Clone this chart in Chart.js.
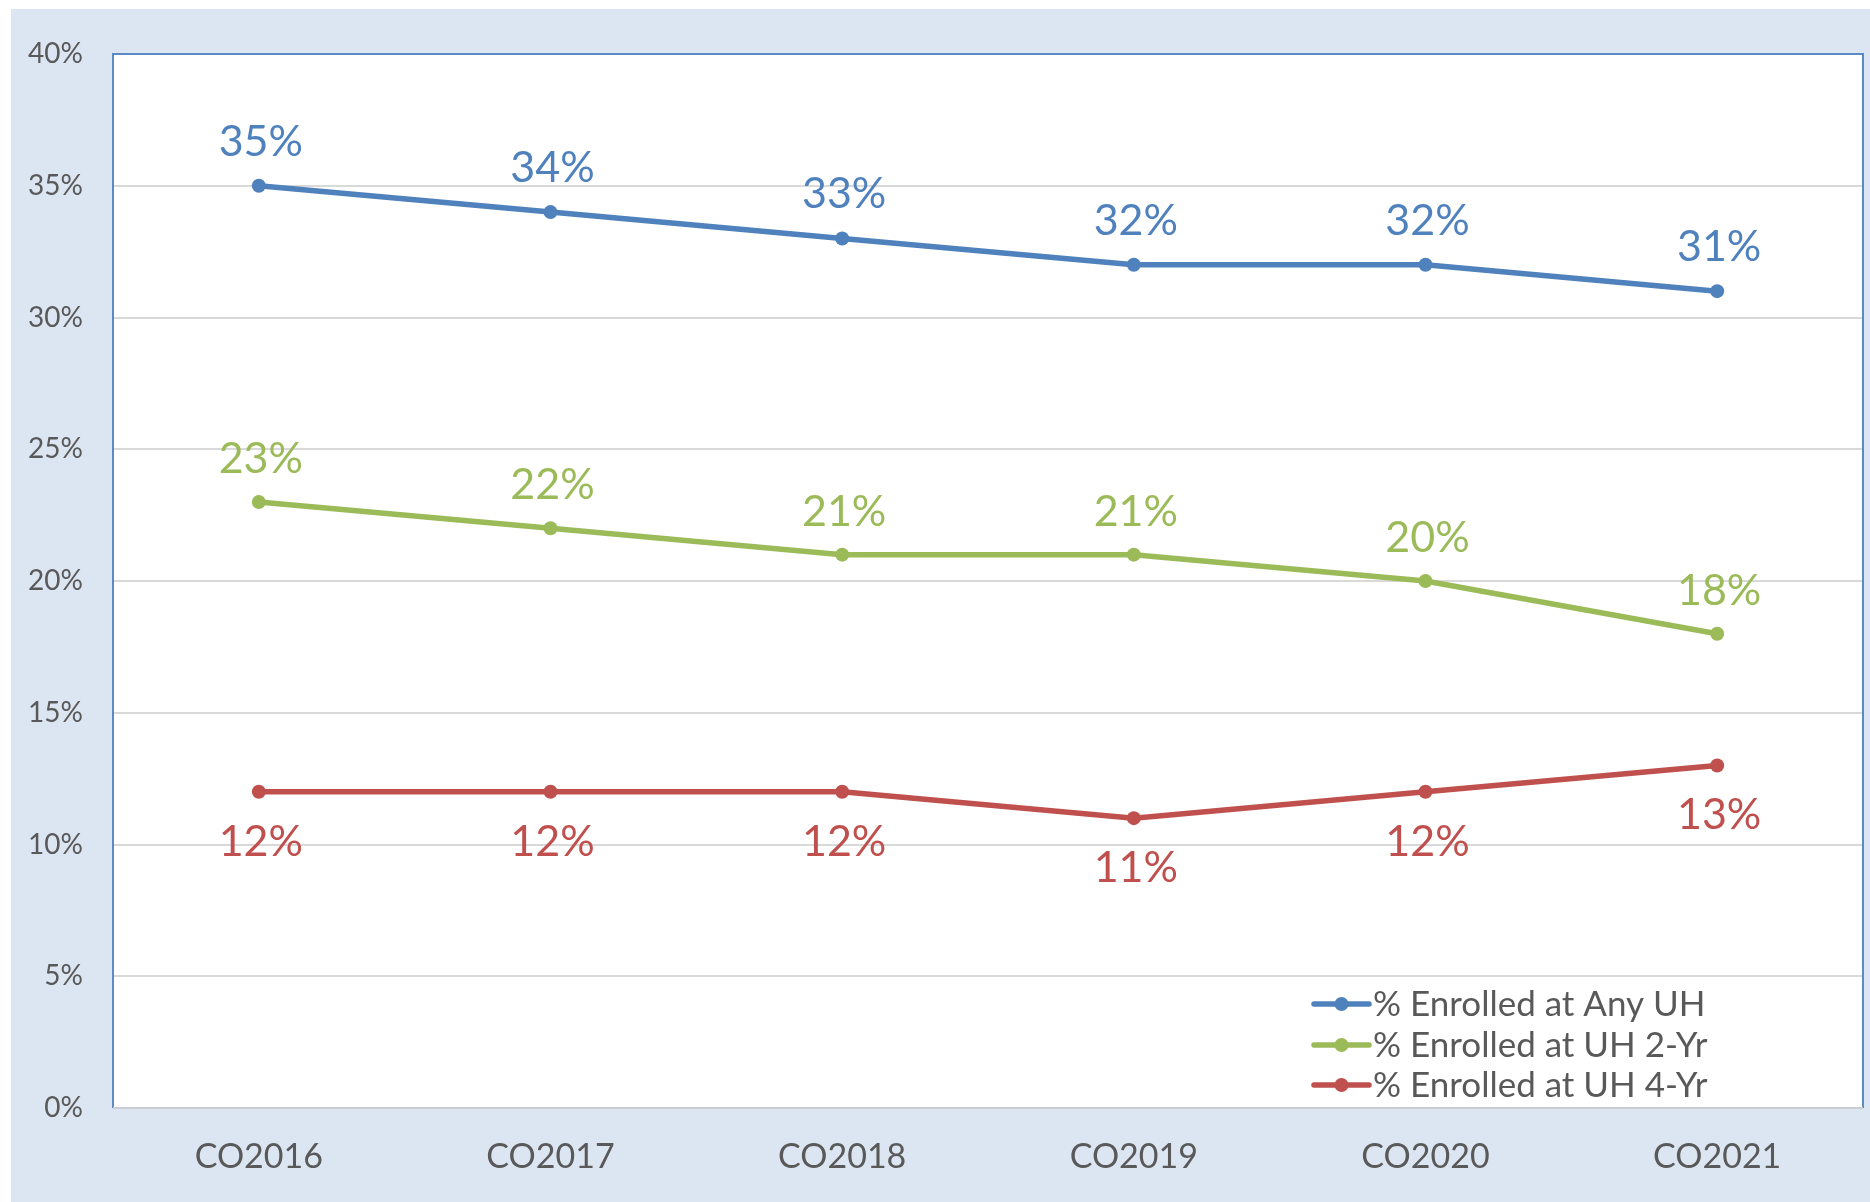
<!DOCTYPE html>
<html>
<head>
<meta charset="utf-8">
<script src="https://cdn.jsdelivr.net/npm/chart.js@4.4.1/dist/chart.umd.min.js"></script>
<style>
  html, body { margin: 0; padding: 0; background: #fff; }
  #wrap { width: 1870px; height: 1202px; position: relative; }
</style>
</head>
<body>
<div id="wrap"><canvas id="chart" width="1870" height="1202"></canvas></div>
<script>
/* === Enrollment trend chart === */
const cohorts = ['CO2016', 'CO2017', 'CO2018', 'CO2019', 'CO2020', 'CO2021'];
const anyUH = [35, 34, 33, 32, 32, 31];
const uh2Yr = [23, 22, 21, 21, 20, 18];
const uh4Yr = [12, 12, 12, 11, 12, 13];
const seriesNames = ['% Enrolled at Any UH', '% Enrolled at UH 2-Yr', '% Enrolled at UH 4-Yr'];
const seriesColors = ['#4F81BD', '#9BBB59', '#C0504D'];
const labelOffset = [-44, -43, 50];   // px from point centre, negative = above

const FONT = 'Lato, "Open Sans", sans-serif';

// panel background + plot area box
const panelPlugin = {
  id: 'panel',
  beforeDraw(chart) {
    const { ctx, chartArea: a } = chart;
    ctx.save();
    ctx.fillStyle = '#DCE6F2';
    ctx.fillRect(11, 9, chart.width - 11, chart.height - 9);
    ctx.fillStyle = '#FFFFFF';
    ctx.fillRect(a.left, a.top, a.right - a.left, a.bottom - a.top);
    ctx.restore();
  },
  afterDatasetsDraw(chart) {
    const { ctx, chartArea: a } = chart;
    ctx.save();
    ctx.strokeStyle = '#5B8AC6';
    ctx.lineWidth = 2;
    ctx.beginPath();
    ctx.moveTo(a.left, a.bottom);
    ctx.lineTo(a.left, a.top);
    ctx.lineTo(a.right, a.top);
    ctx.lineTo(a.right, a.bottom);
    ctx.stroke();
    ctx.strokeStyle = '#C8CDD4';
    ctx.beginPath();
    ctx.moveTo(a.left, a.bottom);
    ctx.lineTo(a.right, a.bottom);
    ctx.stroke();
    ctx.restore();
  }
};

// value labels next to each point
const valueLabels = {
  id: 'valueLabels',
  afterDatasetsDraw(chart) {
    const { ctx } = chart;
    ctx.save();
    ctx.font = '43px ' + FONT;
    ctx.textAlign = 'center';
    ctx.textBaseline = 'middle';
    chart.data.datasets.forEach((ds, i) => {
      const meta = chart.getDatasetMeta(i);
      ctx.fillStyle = ds.borderColor;
      meta.data.forEach((pt, j) => {
        ctx.fillText(ds.data[j] + '%', pt.x + 2, pt.y + labelOffset[i]);
      });
    });
    ctx.restore();
  }
};

// legend drawn inside the plot area, bottom right
const innerLegend = {
  id: 'innerLegend',
  afterDraw(chart) {
    const { ctx } = chart;
    const x0 = 1314, x1 = 1369, tx = 1373;
    const rows = [1004, 1045, 1085];
    ctx.save();
    ctx.font = '35px ' + FONT;
    ctx.textBaseline = 'middle';
    ctx.textAlign = 'left';
    chart.data.datasets.forEach((ds, i) => {
      const y = rows[i];
      ctx.strokeStyle = ds.borderColor;
      ctx.lineWidth = 5.5;
      ctx.lineCap = 'round';
      ctx.beginPath();
      ctx.moveTo(x0, y);
      ctx.lineTo(x1, y);
      ctx.stroke();
      ctx.fillStyle = ds.borderColor;
      ctx.beginPath();
      ctx.arc((x0 + x1) / 2, y, 7, 0, Math.PI * 2);
      ctx.fill();
      ctx.fillStyle = '#595959';
      ctx.fillText(ds.label, tx, y + 1);
    });
    ctx.restore();
  }
};

const makeSet = (i, data) => ({
  label: seriesNames[i],
  data: data,
  borderColor: seriesColors[i],
  backgroundColor: seriesColors[i],
  borderWidth: 5.5,
  pointRadius: 7,
  pointHoverRadius: 7,
  pointBorderWidth: 0,
  tension: 0
});

new Chart(document.getElementById('chart'), {
  type: 'line',
  data: {
    labels: cohorts,
    datasets: [makeSet(0, anyUH), makeSet(1, uh2Yr), makeSet(2, uh4Yr)]
  },
  options: {
    responsive: false,
    animation: false,
    layout: { padding: { top: 54, right: 7, bottom: 0, left: 0 } },
    plugins: { legend: { display: false }, tooltip: { enabled: false } },
    scales: {
      x: {
        offset: true,
        grid: { display: false, drawTicks: false },
        border: { display: false },
        ticks: { color: '#595959', font: { family: FONT, size: 34 }, padding: 29, maxRotation: 0 },
        afterFit(s) { s.height = 94; }
      },
      y: {
        min: 0,
        max: 40,
        grid: { color: '#D9D9D9', lineWidth: 2, drawTicks: false },
        border: { display: false },
        ticks: {
          stepSize: 5,
          color: '#595959',
          font: { family: FONT, size: 28 },
          padding: 30,
          callback: v => v + '%'
        },
        afterFit(s) { s.width = 113; }
      }
    }
  },
  plugins: [panelPlugin, valueLabels, innerLegend]
});
</script>
</body>
</html>
